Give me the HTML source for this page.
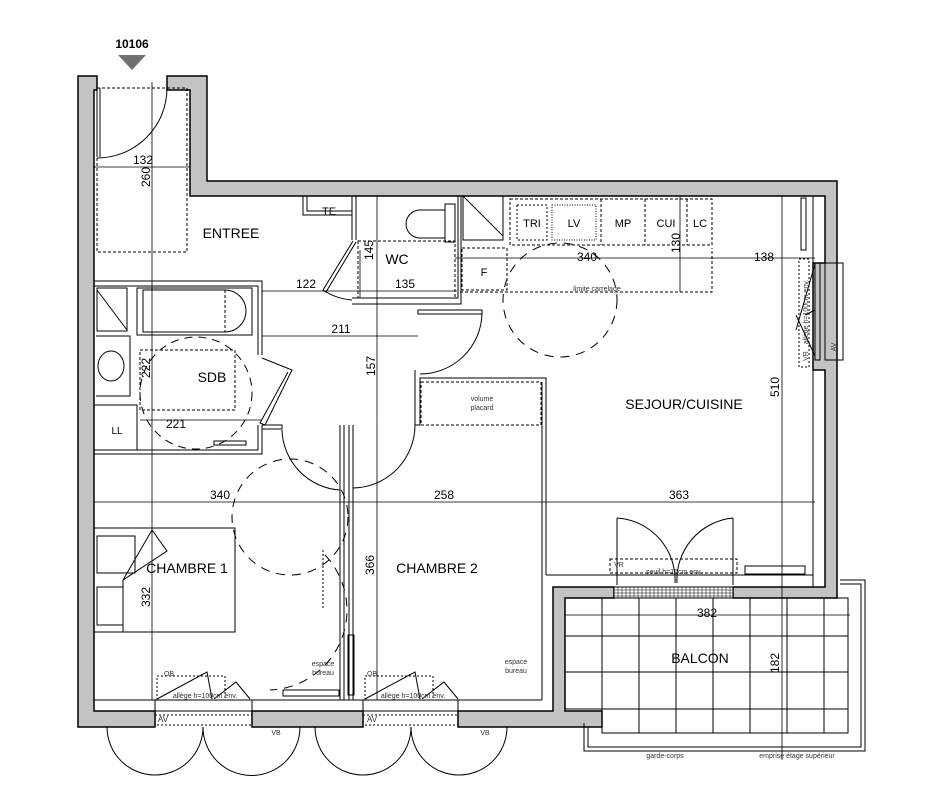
<!DOCTYPE html>
<html><head><meta charset="utf-8"><style>
html,body{margin:0;padding:0;background:#fff;}
svg{display:block;font-family:"Liberation Sans",Arial,sans-serif;}
</style></head><body>
<svg width="944" height="800" viewBox="0 0 944 800" xmlns="http://www.w3.org/2000/svg">
<g fill="#c3c3c3" stroke="#000" stroke-width="1.5">
<path d="M78,76 H97 V90 H94 V711 H155 V727 H78 Z"/>
<path d="M167,76 H207 V181 H837 V598 H733 V587 H825 V370 H813 V263 H825 V196 H190 V90 H167 Z"/>
<path d="M252,711 H363 V727 H252 Z"/>
<path d="M458,711 H553 V587 H614 V598 H565 V711 H602 V727 H458 Z"/>
</g>
<rect x="614" y="587" width="119" height="11" fill="#fff" stroke="#000"/>
<g stroke="#000" stroke-width="0.5">
<path d="M614,590 H733 M614,593 H733 M614,596 H733"/>
<path d="M618,587 V598 M622,587 V598 M626,587 V598 M630,587 V598 M634,587 V598 M638,587 V598 M642,587 V598 M646,587 V598 M650,587 V598 M654,587 V598 M658,587 V598 M662,587 V598 M666,587 V598 M670,587 V598 M674,587 V598 M678,587 V598 M682,587 V598 M686,587 V598 M690,587 V598 M694,587 V598 M698,587 V598 M702,587 V598 M706,587 V598 M710,587 V598 M714,587 V598 M718,587 V598 M722,587 V598 M726,587 V598 M730,587 V598"/>
</g>
<g fill="none" stroke="#000" stroke-width="1">
<rect x="97" y="88" width="90" height="164" stroke-dasharray="3,2"/>
<path d="M97,88 V157 M100,88 V157"/>
<path d="M167,88 A70,70 0 0 1 97,158"/>
<path d="M813,196 V263 M813,370 V587"/>
<rect x="801" y="198" width="5" height="52"/>
<rect x="825" y="263" width="18" height="97"/>
<rect x="815" y="263" width="5" height="97"/>
<path d="M796,330 L815,264 M815,310 L805,315 M796,315 L815,356" />
<rect x="799" y="259" width="10" height="108" stroke-dasharray="2,2"/>
<path d="M303,196 V215 H352 M307,196 V211 H352"/>
<path d="M352,196 V240 M356,196 V240"/>
<path d="M353,241 L323,290 L326,292 L356,242"/>
<path d="M323,290 A60,60 0 0 0 352,300"/>
<path d="M352,298 H458 V196 M352,304 H461 V196"/>
<rect x="358" y="241" width="97" height="57" stroke-dasharray="3,2"/>
<path d="M445,210 H420 A12,12 0 0 0 420,238 H445 Z"/>
<rect x="445" y="204" width="10" height="38"/>
<rect x="463" y="196" width="40" height="44"/>
<path d="M463,196 L503,236"/>
<rect x="510" y="199" width="202" height="46" stroke-dasharray="3,2"/>
<rect x="517" y="205" width="30" height="35" stroke-dasharray="2,2"/>
<rect x="552" y="205" width="44" height="35" stroke-dasharray="1,1.5"/>
<path d="M601,199 V245 M645,199 V245 M687,199 V245" stroke-dasharray="3,2"/>
<rect x="462" y="248" width="45" height="42" stroke-dasharray="3,2"/>
<path d="M460,292 H712 V248" stroke-dasharray="3,2"/>
<circle cx="560" cy="300" r="57" stroke-dasharray="9,7"/>
<path d="M418,310 H482 V314 H418 Z"/>
<path d="M482,314 A62,62 0 0 1 420,374"/>
<path d="M94,281 H262 V355 M94,286 H258 V355 M262,425 V454 H94 M258,425 V450 H94"/>
<rect x="137" y="288" width="115" height="47"/>
<path d="M143,290 H225 A20,20 0 0 1 225,332 H143 Z"/>
<path d="M225,290 V332" stroke-dasharray="3,2"/>
<rect x="97" y="288" width="30" height="43"/>
<path d="M97,290 L127,330"/>
<path d="M96,336 H130 V396 H96"/>
<ellipse cx="111" cy="366" rx="13" ry="15"/>
<path d="M94,405 H137 V450" />
<rect x="140" y="350" width="95" height="60" stroke-dasharray="3,2"/>
<circle cx="196" cy="393" r="56" stroke-dasharray="8,6"/>
<path d="M262,358 L292,370 L265,425 L260,423 L288,372"/>
<rect x="214" y="441" width="32" height="4"/>
<path d="M262,425 H282 V429 H262"/>
<path d="M282,430 A62,62 0 0 0 340,490"/>
<path d="M340,425 V700 M344,425 V700 M349,425 V700 M353,425 V700"/>
<path d="M353,488 A63,63 0 0 0 415,425"/>
<path d="M415,370 V425 H420 V378 H546 V575 M420,378 V382 M542,382 V700"/>
<rect x="421" y="382" width="120" height="43" stroke-dasharray="3,2"/>
<path d="M546,575 H553" />
<path d="M94,700 H155 M252,700 H363 M458,700 H542 M553,575 H813" />
<rect x="348" y="635" width="6" height="60"/>
<rect x="94" y="528" width="141" height="104"/>
<rect x="97" y="536" width="38" height="37"/>
<rect x="97" y="587" width="26" height="38"/>
<path d="M123,632 V580 L152,530 L167,551 L123,580"/>
<circle cx="290" cy="517" r="58" stroke-dasharray="9,7"/>
<path d="M325,555 A80,80 0 0 1 270,690" stroke-dasharray="9,7"/>
<path d="M323,550 V610" stroke-dasharray="2,2"/>
<rect x="283" y="690" width="56" height="6"/>
<rect x="155" y="700" width="97" height="11"/>
<rect x="155" y="715" width="97" height="10" stroke-dasharray="2,2"/>
<path d="M157,699 L207,672 L212,699 M214,699 L236,682 L250,699"/>
<rect x="157" y="676" width="68" height="24" stroke-dasharray="2,2"/>
<rect x="363" y="700" width="95" height="11"/>
<rect x="363" y="715" width="95" height="10" stroke-dasharray="2,2"/>
<path d="M365,699 L415,672 L420,699 M422,699 L444,682 L458,699"/>
<rect x="365" y="676" width="68" height="24" stroke-dasharray="2,2"/>
<path d="M107,727 A48,48 0 0 0 203,727 A48,48 0 0 0 300,727"/>
<path d="M315,727 A48,48 0 0 0 411,727 A48,48 0 0 0 507,727"/>
<path d="M617,518 V585 M733,518 V585"/>
<path d="M617,518 A62,62 0 0 1 675,583 M733,518 A62,62 0 0 0 677,583"/>
<rect x="610" y="559" width="127" height="14" stroke-dasharray="3,2"/>
<rect x="745" y="566" width="60" height="8"/>
<path d="M565,598 H848 V733 H602 V709 H565 Z"/>
<path d="M602,598 V733 M639,598 V733 M676,598 V733 M713,598 V733 M750,598 V733 M787,598 V733 M824,598 V733 M565,636 H848 M565,672 H848 M602,709 H848"/>
<path d="M584,723 V751 H865 V580 H840 M588,727 V747 H861 V584 H840"/>
<g stroke-width="0.8">
<path d="M152,82 V700 M93,167 H190 M262,291 H457 M262,336 H418 M377,196 V700 M94,502 H815 M455,258 H815 M680,196 V292 M782,196 V760 M565,615 H850 M360,250 V298 M140,420 H262"/>
</g>
</g>
<polygon points="118,55 146,55 132,70" fill="#707070"/>
<g font-size="12" fill="#000" text-anchor="middle">
<text x="132" y="48" font-weight="bold">10106</text>
<text x="231" y="238" font-size="14">ENTREE</text>
<text x="397" y="264" font-size="14">WC</text>
<text x="212" y="382" font-size="14">SDB</text>
<text x="684" y="409" font-size="14">SEJOUR/CUISINE</text>
<text x="187" y="573" font-size="14">CHAMBRE 1</text>
<text x="437" y="573" font-size="14">CHAMBRE 2</text>
<text x="700" y="663" font-size="14">BALCON</text>
<text x="143" y="164">132</text>
<text x="306" y="288">122</text>
<text x="405" y="288">135</text>
<text x="341" y="333">211</text>
<text x="176" y="428">221</text>
<text x="220" y="499">340</text>
<text x="444" y="499">258</text>
<text x="679" y="499">363</text>
<text x="587" y="261">340</text>
<text x="764" y="261">138</text>
<text x="707" y="617">382</text>
<text x="329" y="215" font-size="11">TE</text>
<text x="532" y="227" font-size="11">TRI</text>
<text x="574" y="227" font-size="11">LV</text>
<text x="623" y="227" font-size="11">MP</text>
<text x="666" y="227" font-size="11">CUI</text>
<text x="700" y="227" font-size="11">LC</text>
<text x="484" y="276" font-size="11">F</text>
<text x="117" y="434" font-size="10">LL</text>
<text transform="translate(150,177) rotate(-90)">260</text>
<text transform="translate(373,250) rotate(-90)">145</text>
<text transform="translate(375,366) rotate(-90)">157</text>
<text transform="translate(150,368) rotate(-90)">222</text>
<text transform="translate(150,597) rotate(-90)">332</text>
<text transform="translate(374,565) rotate(-90)">366</text>
<text transform="translate(680,243) rotate(-90)">130</text>
<text transform="translate(779,387) rotate(-90)">510</text>
<text transform="translate(779,663) rotate(-90)">182</text>
</g>
<g font-size="7" fill="#333" text-anchor="middle">
<text x="597" y="291">limite carrelage</text>
<text x="482" y="401">volume</text>
<text x="482" y="410">placard</text>
<text x="323" y="666">espace</text>
<text x="323" y="675">bureau</text>
<text x="516" y="664">espace</text>
<text x="516" y="673">bureau</text>
<text x="205" y="698">allège h=100cm env.</text>
<text x="413" y="698">allège h=100cm env.</text>
<text x="169" y="676">OB</text>
<text x="372" y="676">OB</text>
<text x="163" y="722" font-size="8">AV</text>
<text x="372" y="722" font-size="8">AV</text>
<text x="276" y="735">VB</text>
<text x="485" y="735">VB</text>
<text x="619" y="567">VR</text>
<text x="674" y="574">seuil h=15cm env.</text>
<text x="665" y="758">garde-corps</text>
<text x="797" y="758">emprise étage supérieur</text>
<text transform="translate(808,312) rotate(-90)">allège h=100cm env.</text>
<text transform="translate(808,356) rotate(-90)">VR</text>
<text transform="translate(836,347) rotate(-90)">AV</text>
</g>
</svg>
</body></html>
